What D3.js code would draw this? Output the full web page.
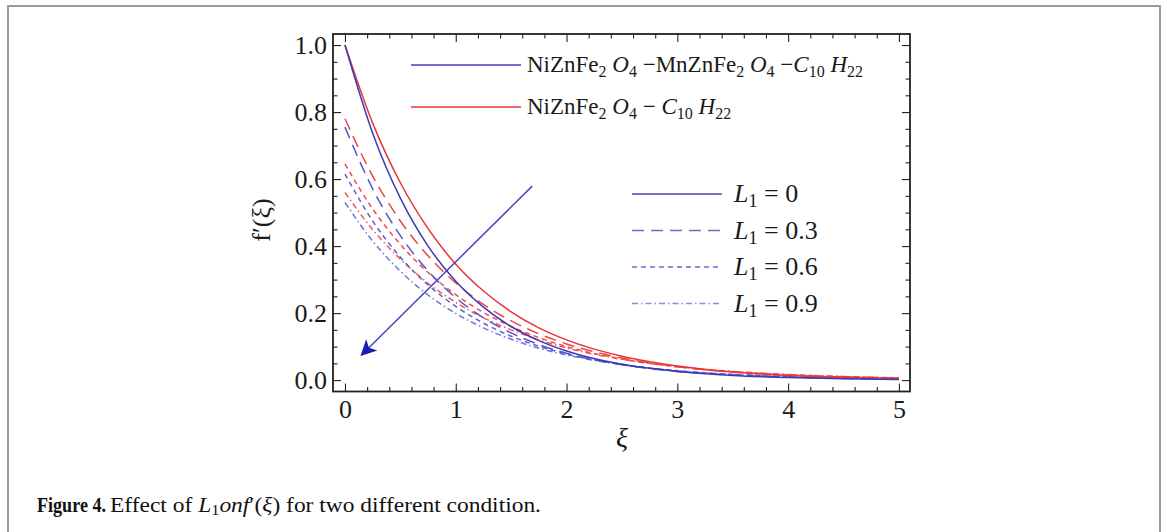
<!DOCTYPE html>
<html>
<head>
<meta charset="utf-8">
<script src="https://cdn.jsdelivr.net/npm/d3@7"></script>
<style>
  body { margin: 0; background: #fff; }
  text { font-family: "Liberation Serif", "DejaVu Serif", serif; }
</style>
</head>
<body>
<div id="chart"></div>
<script>
// xi grid, values
const xi = [0, 0.25, 0.5, 0.75, 1, 1.25, 1.5, 1.75, 2, 2.5, 3, 3.5, 4, 4.5, 5];

// NiZnFe2O4-MnZnFe2O4-C10H22 (blue)
const hybL0  = [1.0, 0.737, 0.543, 0.400, 0.295, 0.218, 0.160, 0.118, 0.087, 0.047, 0.026, 0.014, 0.008, 0.004, 0.002];
const hybL03 = [0.755, 0.571, 0.431, 0.326, 0.246, 0.186, 0.141, 0.106, 0.080, 0.046, 0.026, 0.015, 0.009, 0.005, 0.003];
const hybL06 = [0.615, 0.475, 0.367, 0.284, 0.220, 0.170, 0.131, 0.101, 0.078, 0.047, 0.028, 0.017, 0.010, 0.006, 0.004];
const hybL09 = [0.530, 0.415, 0.325, 0.254, 0.199, 0.156, 0.122, 0.095, 0.075, 0.046, 0.028, 0.017, 0.011, 0.007, 0.004];

// NiZnFe2O4-C10H22 (red)
const nanoL0  = [1.0, 0.767, 0.589, 0.452, 0.346, 0.266, 0.204, 0.156, 0.120, 0.071, 0.042, 0.024, 0.014, 0.009, 0.005];
const nanoL03 = [0.780, 0.609, 0.475, 0.371, 0.290, 0.226, 0.177, 0.138, 0.108, 0.066, 0.040, 0.024, 0.015, 0.009, 0.006];
const nanoL06 = [0.645, 0.511, 0.405, 0.321, 0.255, 0.202, 0.160, 0.127, 0.100, 0.063, 0.040, 0.025, 0.016, 0.010, 0.006];
const nanoL09 = [0.560, 0.449, 0.361, 0.289, 0.232, 0.186, 0.150, 0.120, 0.096, 0.062, 0.040, 0.026, 0.017, 0.011, 0.007];

const L1vals = ['0', '0.3', '0.6', '0.9'];
const xTicks = [0, 1, 2, 3, 4, 5];
const yTicks = [0.0, 0.2, 0.4, 0.6, 0.8, 1.0];
// arrow (direction of increasing L1), in data units
const arrowFrom = [1.69, 0.579];
const arrowTo = [0.15, 0.075];

const W = 1168, H = 532;
const frame = {left: 333, right: 910, top: 34, bottom: 391.5};

const svg = d3.select('#chart').append('svg')
  .attr('width', W).attr('height', H);

// outer figure border
svg.append('rect')
  .attr('x', 8).attr('y', 6).attr('width', 1152).attr('height', 600)
  .attr('fill', 'none').attr('stroke', '#9a9a9a').attr('stroke-width', 2);

const x = d3.scaleLinear().domain([-0.108, 5.1]).range([frame.left, frame.right]);
const y = d3.scaleLinear().domain([-0.034, 1.033]).range([frame.bottom, frame.top]);

const minorX = d3.range(0, 5.01, 0.2).filter(v => Math.abs(v - Math.round(v)) > 1e-6);
const minorY = d3.range(0, 1.001, 0.05).filter(v => Math.abs(v * 5 - Math.round(v * 5)) > 1e-6);

// axes with inward ticks on all four sides
function addAxis(axisFn, pos, scale, major, minor, labels, pad) {
  const g = svg.append('g').attr('transform', pos);
  g.call(axisFn(scale).tickValues(major).tickSizeInner(-8).tickSizeOuter(0)
    .tickPadding(pad || 8).tickFormat(labels ? d3.format('.1f') : ''));
  const gm = svg.append('g').attr('transform', pos);
  gm.call(axisFn(scale).tickValues(minor).tickSizeInner(-4.5).tickSizeOuter(0).tickFormat(''));
  gm.select('.domain').remove();
  g.select('.domain').remove();
  svg.selectAll('.tick line').attr('stroke', '#222').attr('stroke-width', 1.1);
  return g;
}
const gx = addAxis(d3.axisBottom, `translate(0,${frame.bottom})`, x, xTicks, minorX, true, 8);
gx.selectAll('text').text(d => d3.format('d')(d));
addAxis(d3.axisTop, `translate(0,${frame.top})`, x, xTicks, minorX, false);
addAxis(d3.axisLeft, `translate(${frame.left},0)`, y, yTicks, minorY, true, 6);
addAxis(d3.axisRight, `translate(${frame.right},0)`, y, yTicks, minorY, false);

svg.selectAll('.tick text')
  .attr('font-family', '"Liberation Serif", serif')
  .attr('font-size', 26).attr('fill', '#1a1a1a');

svg.append('rect')
  .attr('x', frame.left).attr('y', frame.top)
  .attr('width', frame.right - frame.left).attr('height', frame.bottom - frame.top)
  .attr('fill', 'none').attr('stroke', '#222').attr('stroke-width', 1.8);

// curves
const line = d3.line().x((d, i) => x(xi[i])).y(d => y(d)).curve(d3.curveMonotoneX);
const dashes = [null, '12,7', '5,4', '6,3,1.5,3'];
const blueCols = ['#3a3ab4', '#5656cc', '#5e5ed4', '#7474dc'];
const redCols = ['#e8343a', '#ee4448', '#f04c50', '#f25a5e'];
const blues = [hybL0, hybL03, hybL06, hybL09];
const reds = [nanoL0, nanoL03, nanoL06, nanoL09];

[3, 2, 1, 0].forEach(k => {
  svg.append('path').attr('d', line(reds[k]))
    .attr('fill', 'none').attr('stroke', redCols[k]).attr('stroke-width', 1.5)
    .attr('stroke-dasharray', dashes[k]);
  svg.append('path').attr('d', line(blues[k]))
    .attr('fill', 'none').attr('stroke', blueCols[k]).attr('stroke-width', 1.5)
    .attr('stroke-dasharray', dashes[k]);
});

// arrow
svg.append('defs').append('marker')
  .attr('id', 'head').attr('viewBox', '0 0 10 10')
  .attr('refX', 9).attr('refY', 5)
  .attr('markerWidth', 24).attr('markerHeight', 16)
  .attr('markerUnits', 'userSpaceOnUse')
  .attr('orient', 'auto')
  .append('path').attr('d', 'M0,0 L10,5 L0,10 L2.5,5 Z').attr('fill', '#1c1cae');
svg.append('line')
  .attr('x1', x(arrowFrom[0])).attr('y1', y(arrowFrom[1]))
  .attr('x2', x(arrowTo[0])).attr('y2', y(arrowTo[1]))
  .attr('stroke', '#4646c0').attr('stroke-width', 1.5)
  .attr('marker-end', 'url(#head)');

// top legend (fluids)
function fluidLabel(t, parts) {
  parts.forEach(p => {
    const s = t.append('tspan').text(p[0]);
    if (p[1] === 'i') s.attr('font-style', 'italic');
    if (p[1] === 'sub') s.attr('font-size', 16).attr('dy', 5);
    if (p[2]) s.attr('dy', p[2]);
  });
}
const hybParts = [['NiZnFe'], ['2', 'sub'], [' ', '', -5], ['O', 'i'], ['4', 'sub'], [' \u2212MnZnFe', '', -5],
  ['2', 'sub'], [' ', '', -5], ['O', 'i'], ['4', 'sub'], [' \u2212', '', -5], ['C', 'i'], ['10', 'sub'],
  [' ', '', -5], ['H', 'i'], ['22', 'sub']];
const nanoParts = [['NiZnFe'], ['2', 'sub'], [' ', '', -5], ['O', 'i'], ['4', 'sub'], [' \u2212 ', '', -5],
  ['C', 'i'], ['10', 'sub'], [' ', '', -5], ['H', 'i'], ['22', 'sub']];

[[65, '#4040b8', hybParts], [107, '#e8343a', nanoParts]].forEach(r => {
  svg.append('line').attr('x1', 411).attr('x2', 521).attr('y1', r[0]).attr('y2', r[0])
    .attr('stroke', r[1]).attr('stroke-width', 1.6);
  const t = svg.append('text').attr('x', 527).attr('y', r[0] + 7)
    .attr('font-size', 23).attr('fill', '#1a1a1a');
  fluidLabel(t, r[2]);
});

// L1 legend
const legCols = ['#4848b4', '#7868cc', '#7868cc', '#948ade'];
L1vals.forEach((v, i) => {
  const yy = 194 + i * 36.5;
  svg.append('line').attr('x1', 632).attr('x2', 722).attr('y1', yy).attr('y2', yy)
    .attr('stroke', legCols[i]).attr('stroke-width', 1.6).attr('stroke-dasharray', dashes[i]);
  const t = svg.append('text').attr('x', 734).attr('y', yy + 8)
    .attr('font-size', 26).attr('fill', '#1a1a1a');
  t.append('tspan').attr('font-style', 'italic').text('L');
  t.append('tspan').attr('font-size', 18).attr('dy', 5).text('1');
  t.append('tspan').attr('dy', -5).text(' = ' + v);
});

// axis titles
svg.append('text')
  .attr('transform', 'translate(270,220) rotate(-90)')
  .attr('text-anchor', 'middle').attr('font-size', 26).attr('fill', '#1a1a1a')
  .text('f\u2032(\u03be)');
svg.append('text')
  .attr('x', 622).attr('y', 447).attr('text-anchor', 'middle')
  .attr('font-size', 28).attr('font-style', 'italic').attr('fill', '#1a1a1a')
  .text('\u03be');

// caption
svg.append('text').attr('x', 37).attr('y', 512).attr('font-size', 20)
  .attr('font-weight', 'bold').attr('fill', '#111')
  .attr('textLength', 69).attr('lengthAdjust', 'spacingAndGlyphs').text('Figure 4.');
const cap = svg.append('text').attr('x', 110).attr('y', 512).attr('font-size', 20)
  .attr('fill', '#111').attr('textLength', 431).attr('lengthAdjust', 'spacingAndGlyphs');
cap.append('tspan').text('Effect of ');
cap.append('tspan').attr('font-style', 'italic').text('L');
cap.append('tspan').attr('font-size', 14).attr('dy', 3).text('1');
cap.append('tspan').attr('dy', -3).attr('font-style', 'italic').text('onf');
cap.append('tspan').text('\u2032(');
cap.append('tspan').attr('font-style', 'italic').text('\u03be');
cap.append('tspan').text(') for two different condition.');
</script>
</body>
</html>
